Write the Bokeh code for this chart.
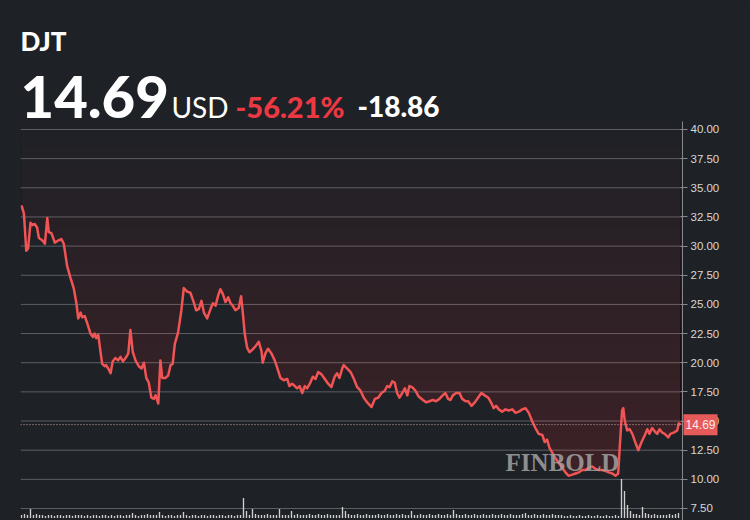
import numpy as np
from bokeh.plotting import figure
from bokeh.models import Range1d, FixedTicker, Label, NumeralTickFormatter
from bokeh.embed import file_html
from bokeh.resources import INLINE

# ---------------- data ----------------
ticker_name = "DJT"
last_price = "14.69"
currency = "USD"
change_pct = "-56.21%"
change_abs = "-18.86"
last_value = 14.69

session = [0, 0.8, 1.6, 2.2, 3, 3.6, 4.4, 5.2, 5.8, 6.9, 7.8, 8.6, 9.1, 10, 11.1, 12.4, 13.3, 14.1,
           15.2, 16.3, 17.4, 18.3, 18.9, 19.7, 20.2, 21.1, 21.9, 23, 23.8, 24.4, 24.9, 25.6, 26.3,
           26.9, 27.8, 28.2, 28.9, 29.7, 30.4, 31.3, 32.2, 33, 33.8, 34.7, 35.6, 36.3, 37.1, 38,
           39.1, 40, 40.8, 41.6, 42.4, 43.3, 44.1, 44.7, 45.6, 46.3, 46.9, 48, 48.9, 49.7, 50.4,
           51.1, 52.2, 53.3, 54.1, 55.2, 56.3, 57.4, 58.2, 59.1, 60, 60.8, 61.9, 63, 63.8, 64.7,
           65.6, 66.3, 67.1, 68, 68.9, 69.7, 70.4, 71.3, 72.4, 73.2, 73.8, 74.4, 75.2, 76, 76.9,
           78, 79.1, 80, 80.4, 81.3, 82.2, 83.3, 84.4, 85.2, 86.3, 87.4, 88.6, 89.3, 90.2, 91.1,
           91.9, 92.7, 93.6, 94.4, 95.2, 96.3, 97.1, 98, 98.9, 100, 101.1, 102.2, 103.3, 104.4,
           105.2, 106, 106.9, 107.4, 108.6, 109.7, 110.8, 111.9, 113, 114.1, 115.2, 116.7, 117.8,
           118.9, 120, 121.1, 121.9, 122.7, 123.6, 124.4, 125.2, 126, 126.9, 127.8, 128.6, 129.3,
           130.2, 131.3, 132.4, 133.8, 134.9, 136, 137.1, 138.2, 139.3, 140.4, 141.3, 142.2, 143,
           143.8, 144.9, 146, 146.9, 148, 148.9, 150, 151.1, 152.2, 153.3, 154.4, 155.6, 156.7,
           157.4, 158.2, 159.1, 160.2, 161.3, 162.4, 163.6, 164.7, 165.8, 166.9, 168, 169.1,
           170.2, 171.3, 172.4, 173.6, 174.4, 175.2, 176, 176.9, 178, 179.1, 180.2, 181.3, 182.4,
           183.6, 184.7, 185.8, 186.9, 188, 189.1, 190.2, 191.3, 192.4, 193.6, 194.7, 195.8,
           196.9, 198, 198.9, 199.4, 200.2, 200.6, 201.1, 201.9, 202.7, 203.6, 204.7, 205.6,
           206.7, 207.8, 208.6, 209.3, 210.2, 211.1, 211.9, 212.7, 213.6, 214.4, 215.6, 216.3,
           217.4, 218.6, 219.1, 219.7]

close = [33.5, 32.8, 29.6, 29.8, 32.0, 31.8, 31.9, 31.6, 30.7, 30.5, 30.2, 32.4, 31.2, 31.1, 30.3,
         30.5, 30.6, 30.2, 28.3, 27.3, 26.4, 25.1, 23.8, 24.3, 23.9, 24.0, 23.4, 22.5, 22.2, 22.5,
         22.1, 22.4, 21.0, 19.9, 19.7, 19.8, 19.5, 19.1, 20.1, 20.4, 20.2, 20.5, 20.1, 20.4, 20.8,
         22.8, 20.9, 20.2, 19.7, 19.5, 20.0, 18.7, 18.3, 17.0, 16.9, 17.2, 16.5, 20.2, 18.7, 18.7,
         18.9, 19.8, 19.9, 21.6, 22.6, 24.5, 26.4, 26.1, 26.0, 25.2, 24.5, 24.6, 25.3, 24.3, 23.8,
         24.6, 25.1, 24.9, 25.8, 26.3, 25.9, 25.2, 25.6, 25.1, 24.9, 24.5, 24.7, 25.7, 24.2, 22.5,
         21.3, 20.9, 21.1, 21.4, 21.8, 21.0, 20.0, 20.8, 21.2, 20.8, 20.2, 19.6, 18.7, 18.5, 18.6,
         18.0, 18.2, 18.0, 17.8, 18.0, 17.4, 18.0, 17.8, 18.3, 18.8, 18.6, 19.2, 19.0, 18.6, 18.2,
         17.9, 18.8, 19.1, 18.7, 19.5, 19.8, 19.5, 19.2, 18.6, 17.9, 17.6, 17.0, 16.6, 16.2, 16.9,
         17.0, 17.4, 17.6, 18.0, 17.9, 18.4, 18.3, 17.4, 17.0, 17.4, 17.8, 17.2, 18.0, 17.9, 17.6,
         17.1, 16.8, 16.6, 16.7, 16.8, 16.7, 16.9, 17.2, 17.4, 16.9, 16.8, 17.2, 17.4, 17.4, 16.9,
         16.7, 16.7, 16.3, 16.6, 17.0, 17.4, 17.2, 17.0, 16.5, 16.1, 16.3, 16.0, 15.8, 16.0, 15.9,
         16.0, 15.7, 15.8, 16.0, 16.1, 15.7, 15.0, 14.4, 13.9, 13.8, 13.2, 13.4, 12.7, 12.3, 11.8,
         11.4, 11.0, 10.6, 10.3, 10.4, 10.5, 10.6, 10.8, 10.8, 11.0, 11.1, 10.9, 10.8, 10.8, 10.7,
         10.6, 10.5, 10.3, 10.5, 12.7, 15.9, 16.1, 15.0, 14.2, 14.3, 13.9, 13.1, 12.5, 13.2, 13.8,
         14.3, 13.9, 14.4, 14.1, 13.9, 14.3, 14.0, 13.9, 13.6, 13.9, 14.0, 14.2, 14.8, 14.69]

volume = [3, 4, 3, 9, 3, 4, 3, 3, 2, 3, 3, 2, 3, 3, 2, 3, 3, 2, 3, 3,
          3, 2, 3, 2, 3, 3, 2, 3, 3, 2, 3, 2, 3, 3, 2, 3, 3, 5, 3, 2,
          3, 3, 4, 3, 3, 3, 6, 3, 2, 3, 3, 2, 3, 3, 6, 3, 2, 3, 3, 2,
          3, 3, 2, 3, 3, 2, 3, 3, 2, 3, 3, 2, 3, 3, 20, 7, 3, 9, 4, 3,
          3, 3, 4, 3, 3, 3, 9, 3, 3, 3, 7, 3, 4, 3, 3, 3, 4, 3, 3, 4,
          3, 3, 4, 3, 3, 3, 3, 11, 7, 4, 3, 3, 4, 3, 3, 4, 3, 3, 3, 4,
          3, 3, 4, 3, 3, 4, 3, 4, 3, 3, 7, 3, 3, 4, 3, 3, 4, 3, 3, 4,
          3, 3, 4, 3, 8, 4, 3, 3, 4, 3, 3, 4, 3, 3, 4, 3, 3, 4, 3, 3,
          4, 3, 3, 4, 3, 3, 3, 4, 5, 3, 3, 4, 3, 3, 4, 3, 3, 4, 3, 3,
          3, 2, 2, 3, 2, 2, 3, 2, 2, 3, 2, 2, 3, 2, 2, 3, 2, 2, 3, 2,
          39, 27, 13, 7, 4, 4, 3, 11, 5, 4, 3, 4, 3, 3, 3, 3, 4, 3, 4, 5]

y_ticks = [7.5, 10, 12.5, 15, 17.5, 20, 22.5, 25, 27.5, 30, 32.5, 35, 37.5, 40]

# ---------------- style ----------------
BG = "#1e2126"
RED = "#f05454"
GRID = "#5c5f64"
X0, X1 = -0.33, 220.33          # plotting area edges (axis sits at X1)

p = figure(width=750, height=520, output_backend="svg", toolbar_location=None,
           x_range=Range1d(X0, 243.0), y_range=Range1d(6.47, 51.06),
           x_axis_location=None, y_axis_location="right",
           min_border_left=20, min_border_right=0, min_border_top=0, min_border_bottom=0,
           background_fill_color=BG, border_fill_color=BG, outline_line_color=None)

tick = FixedTicker(ticks=y_ticks)
ax = p.yaxis[0]
ax.fixed_location = X1
ax.ticker = tick
ax.formatter = NumeralTickFormatter(format="0.00")
ax.axis_line_color = "#85888d"
ax.major_tick_line_color = "#85888d"
ax.major_tick_in = 2
ax.major_tick_out = 5
ax.minor_tick_line_color = None
ax.major_label_text_color = "#d8d8d8"
ax.major_label_text_font = "Liberation Sans"
ax.major_label_text_font_size = "11.5px"
ax.major_label_standoff = 3
ax.bounds = (6.47, 40.7)

p.xgrid.visible = False
p.ygrid.visible = False
p.segment(x0=X0, x1=X1, y0=y_ticks, y1=y_ticks, line_color=GRID, line_width=1)

# volume
p.extra_y_ranges = {"vol": Range1d(-2.5, 517.5)}
vol_x = list(range(len(volume)))
p.vbar(x=vol_x, top=volume, bottom=0, width=0.45, y_range_name="vol",
       fill_color="#cfcfcf", line_color=None)

# gradient-like fill above the line
xs = np.array(session)
ys = np.array(close)
levels = np.arange(40.5, 6.5, -1.0)
for lvl in levels:
    p.varea(x=xs, y1=np.minimum(ys, lvl), y2=lvl, fill_color=RED, fill_alpha=0.0064)

p.line(xs, ys, line_color=RED, line_width=2.5, line_join="round")

# last price dotted line
p.segment(x0=X0, x1=X1, y0=last_value, y1=last_value, line_color="#d9a9a9",
          line_dash="1 2", line_width=1)

# watermark
p.add_layout(Label(x=485, y=45, x_units="screen", y_units="screen", text="FINBOLD",
                   text_font="Liberation Serif", text_font_style="bold", text_font_size="25px",
                   text_color="#a3a3a3", text_alpha=0.85))

# price tag on axis
p.add_layout(Label(x=663, y=last_value, x_units="screen", y_units="data", text=last_price,
                   text_font="Liberation Sans", text_font_size="12px",
                   text_color="#fde8e8", text_baseline="middle", text_align="left",
                   background_fill_color="#e65a5a", padding=(2, 6)))

# header
hdr_font = "Lato Black"
p.add_layout(Label(x=0, y=480, x_units="screen", y_units="screen", text=ticker_name,
                   text_font=hdr_font, text_font_size="26px",
                   text_color="#ffffff", text_baseline="alphabetic"))
p.add_layout(Label(x=0, y=424, x_units="screen", y_units="screen", text=last_price,
                   text_font=hdr_font, text_font_size="58px",
                   text_color="#ffffff", text_baseline="alphabetic"))
p.add_layout(Label(x=151, y=414, x_units="screen", y_units="screen", text=currency,
                   text_font="Lato", text_font_size="28px",
                   text_color="#ffffff", text_baseline="alphabetic"))
p.add_layout(Label(x=215, y=414, x_units="screen", y_units="screen", text=change_pct,
                   text_font=hdr_font, text_font_size="29px",
                   text_color="#ea3943", text_baseline="alphabetic"))
p.add_layout(Label(x=337, y=414, x_units="screen", y_units="screen", text=change_abs,
                   text_font=hdr_font, text_font_size="28px",
                   text_color="#ffffff", text_baseline="alphabetic"))

html = file_html(p, INLINE, title="DJT")
html = html.replace("<head>", "<head><style>html,body{background:#1e2126;}</style>", 1)
open("out.html", "w").write(html)
